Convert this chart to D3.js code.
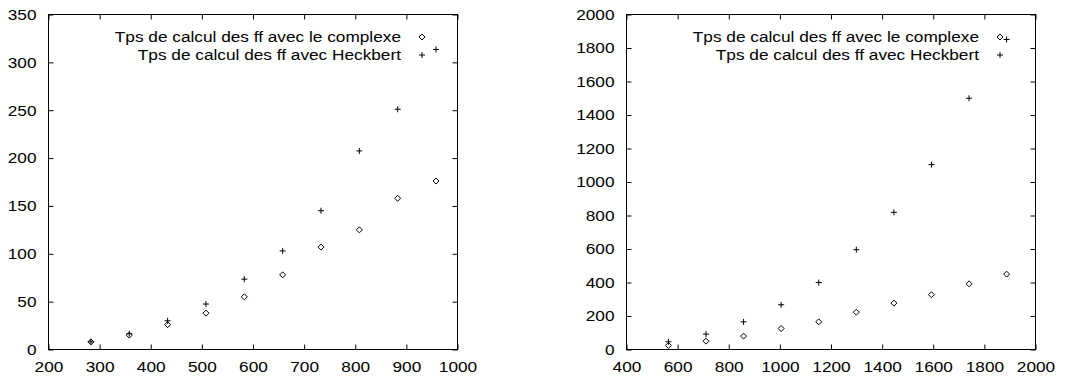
<!DOCTYPE html>
<html><head><meta charset="utf-8">
<script src="https://cdn.jsdelivr.net/npm/d3@7"></script>
<style>
body{margin:0;background:#fff;}
text{font-family:"Liberation Sans",Arial,sans-serif;font-size:15px;fill:#000;}
</style></head>
<body>
<svg id="c" width="1068" height="379"></svg>
<script>
// Left panel data
const leftX = [283, 358, 433, 508, 583, 658, 733, 808, 883, 958];
const leftComplexe = [8, 15, 26, 38, 55, 78, 107, 125, 158, 176];
const leftHeckbert = [8, 16.5, 30, 47.5, 73.5, 103, 145, 207.5, 251, 313.5];
const leftXTicks = [200, 300, 400, 500, 600, 700, 800, 900, 1000];
const leftYTicks = [0, 50, 100, 150, 200, 250, 300, 350];

// Right panel data
const rightX = [564, 711, 858, 1005, 1152, 1299, 1446, 1593, 1740, 1887];
const rightComplexe = [24, 50, 80, 125, 165, 223, 277, 327, 392, 450];
const rightHeckbert = [46, 92, 165, 267, 400, 596, 819, 1104, 1500, 1851];
const rightXTicks = [400, 600, 800, 1000, 1200, 1400, 1600, 1800, 2000];
const rightYTicks = [0, 200, 400, 600, 800, 1000, 1200, 1400, 1600, 1800, 2000];

const legendLabels = ["Tps de calcul des ff avec le complexe", "Tps de calcul des ff avec Heckbert"];

const svg = d3.select("#c");
const SX = 1.15; // horizontal stretch of the text

function diamond(g, x, y){
  g.append("path").attr("d", `M${x-3},${y}L${x},${y-3}L${x+3},${y}L${x},${y+3}Z`)
   .attr("fill","none").attr("stroke","#000").attr("stroke-width",1);
}
function plus(g, x, y){
  g.append("path").attr("d", `M${x-3},${y}H${x+3}M${x},${y-3}V${y+3}`)
   .attr("fill","none").attr("stroke","#000").attr("stroke-width",1);
}

function panel(opt){
  const g = svg.append("g");
  const x = d3.scaleLinear().domain(opt.xDomain).range([opt.left, opt.right]);
  const y = d3.scaleLinear().domain(opt.yDomain).range([opt.bottom, opt.top]);
  const tk = 5;
  const fmt = d3.format("d");
  g.append("rect").attr("x",opt.left).attr("y",opt.top)
   .attr("width",opt.right-opt.left).attr("height",opt.bottom-opt.top)
   .attr("fill","none").attr("stroke","#000").attr("stroke-width",1);
  const ax = [
    [d3.axisBottom(x).tickValues(opt.xTicks).tickSize(-tk).tickPadding(12).tickFormat(fmt), `translate(0,${opt.bottom})`],
    [d3.axisTop(x).tickValues(opt.xTicks).tickSize(-tk).tickFormat(""), `translate(0,${opt.top})`],
    [d3.axisLeft(y).tickValues(opt.yTicks).tickSize(-tk).tickPadding(12).tickFormat(fmt), `translate(${opt.left},0)`],
    [d3.axisRight(y).tickValues(opt.yTicks).tickSize(-tk).tickFormat(""), `translate(${opt.right},0)`]
  ];
  ax.forEach(([a,t])=>{
    const s = g.append("g").attr("transform",t).call(a);
    s.select(".domain").remove();
    s.selectAll("line").attr("stroke","#000");
    s.selectAll("text").attr("font-family",null).attr("font-size",null)
     .attr("x", function(){ return (+d3.select(this).attr("x")||0)/SX; })
     .attr("transform", `scale(${SX},1)`);
  });
  opt.xs.forEach((v,i)=>diamond(g, x(v), y(opt.c[i])));
  opt.xs.forEach((v,i)=>plus(g, x(v), y(opt.h[i])));
  legendLabels.forEach((l,i)=>{
    const yy = opt.legY + i*18;
    g.append("text").attr("transform",`translate(${opt.legTextX},${yy}) scale(${SX},1)`)
     .attr("dy","0.35em").attr("text-anchor","end").text(l);
    if(i===0) diamond(g, opt.legSampleX, yy); else plus(g, opt.legSampleX, yy);
  });
}

panel({xDomain:[200,1000], yDomain:[0,350], left:48.5, right:457.5, top:14.5, bottom:349.5,
  xTicks:leftXTicks, yTicks:leftYTicks, xs:leftX, c:leftComplexe, h:leftHeckbert,
  legY:37, legTextX:401, legSampleX:422});
panel({xDomain:[400,2000], yDomain:[0,2000], left:626.5, right:1035.5, top:14.5, bottom:349.5,
  xTicks:rightXTicks, yTicks:rightYTicks, xs:rightX, c:rightComplexe, h:rightHeckbert,
  legY:37, legTextX:979, legSampleX:1000});
</script>
</body></html>
